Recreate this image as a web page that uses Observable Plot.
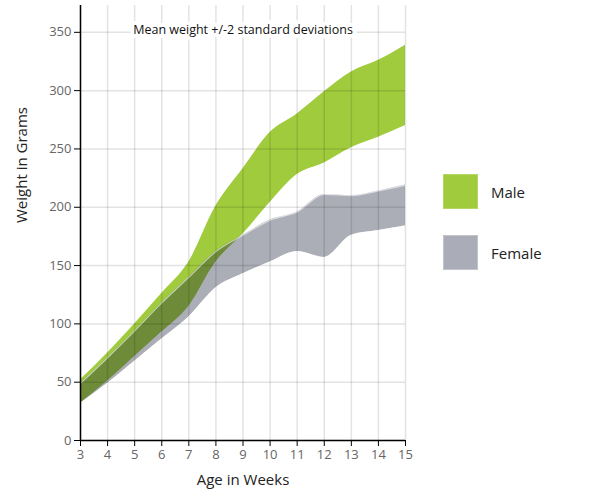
<!DOCTYPE html>
<html>
<head>
<meta charset="utf-8">
<script src="https://cdn.jsdelivr.net/npm/d3@7"></script>
<script src="https://cdn.jsdelivr.net/npm/@observablehq/plot@0.6"></script>
<style>
  body { margin: 0; background: #fff; font-family: "Open Sans", sans-serif; }
  #wrap { position: relative; width: 605px; height: 500px; }
  .legend { position: absolute; left: 443px; top: 174px; }
  .item { display: flex; align-items: center; height: 35px; margin-bottom: 26px; font-size: 15px; color: #222; }
  .sw { width: 35px; height: 35px; margin-right: 13px; box-sizing: border-box; }
</style>
</head>
<body>
<div id="wrap"></div>
<script>
// Age in weeks
const weeks = [3, 4, 5, 6, 7, 8, 9, 10, 11, 12, 13, 14, 15];
// Male weight band (mean +/- 2 SD), grams
const maleHigh = [52, 75, 100, 126, 153, 201, 233, 264, 280, 299, 316, 326, 339];
const maleLow  = [32, 51, 72, 93, 115, 153, 177, 204, 228, 238, 251, 260, 270];
// Female weight band (mean +/- 2 SD), grams
const femaleHigh = [49, 71, 94, 118, 140, 162, 176, 189, 196, 211, 210, 214, 219];
const femaleLow  = [32, 49, 68, 87, 106, 131, 143, 153, 162, 157, 176, 180, 184];
const yTicks = [0, 50, 100, 150, 200, 250, 300, 350];

const maleColor = "#a0cb3c";
const femaleInk = "#0d1330";
const femaleOpacity = 0.35;

const male = weeks.map((w, i) => ({week: w, low: maleLow[i], high: maleHigh[i]}));
const female = weeks.map((w, i) => ({week: w, low: femaleLow[i], high: femaleHigh[i]}));

const chart = Plot.plot({
  width: 605,
  height: 500,
  marginLeft: 80,
  marginRight: 200,
  marginTop: 5,
  marginBottom: 60,
  style: {fontFamily: "'Open Sans', sans-serif", fontSize: "13px", background: "#fff"},
  x: {domain: [3, 15]},
  y: {domain: [0, 373]},
  marks: [
    Plot.areaY(male, {x: "week", y1: "low", y2: "high", fill: maleColor, curve: "monotone-x"}),
    Plot.areaY(female, {x: "week", y1: "low", y2: "high", fill: femaleInk, fillOpacity: femaleOpacity, curve: "monotone-x"}),
    Plot.lineY(female, {x: "week", y: "high", stroke: "#fff", strokeOpacity: 0.6, strokeWidth: 1.2, curve: "monotone-x"}),
    Plot.lineY(female, {x: "week", y: "low", stroke: "#fff", strokeOpacity: 0.6, strokeWidth: 1.2, curve: "monotone-x"}),
    Plot.gridX({ticks: weeks, stroke: "#000", strokeOpacity: 0.11, strokeWidth: 1.5}),
    Plot.gridY({ticks: yTicks, stroke: "#000", strokeOpacity: 0.11, strokeWidth: 1.5}),
    Plot.axisY({ticks: yTicks, tickSize: 6, tickPadding: 3, stroke: "#000", fill: "#666", fontSize: 13, label: null}),
    Plot.axisX({ticks: weeks, tickSize: 6, tickPadding: 3, stroke: "#000", fill: "#666", fontSize: 13, label: null}),
    Plot.ruleX([3], {stroke: "#000", strokeWidth: 1.5}),
    Plot.ruleY([0], {stroke: "#000", strokeWidth: 1.5}),
    Plot.text(["Weight in Grams"], {text: d => d, frameAnchor: "left", rotate: -90, dx: -58, fontSize: 15, fill: "#222"}),
    Plot.text(["Age in Weeks"], {text: d => d, frameAnchor: "bottom", dy: 44, fontSize: 15, fill: "#222"}),
    Plot.text(["Mean weight +/-2 standard deviations"], {text: d => d, frameAnchor: "top", dy: 19.5, fontSize: 12.5, fill: "#111", stroke: "#fff", strokeWidth: 8, paintOrder: "stroke"})
  ]
});

const wrap = document.getElementById("wrap");
wrap.appendChild(chart);

// Legend to the right of the plot
const legend = document.createElement("div");
legend.className = "legend";
[
  {label: "Male", bg: maleColor, border: "#b4d766"},
  {label: "Female", bg: "#aaacb7", border: "#c2c4cc"}
].forEach(d => {
  const item = document.createElement("div");
  item.className = "item";
  const sw = document.createElement("div");
  sw.className = "sw";
  sw.style.background = d.bg;
  sw.style.border = "1px solid " + d.border;
  const t = document.createElement("span");
  t.textContent = d.label;
  item.appendChild(sw);
  item.appendChild(t);
  legend.appendChild(item);
});
wrap.appendChild(legend);
</script>
</body>
</html>
